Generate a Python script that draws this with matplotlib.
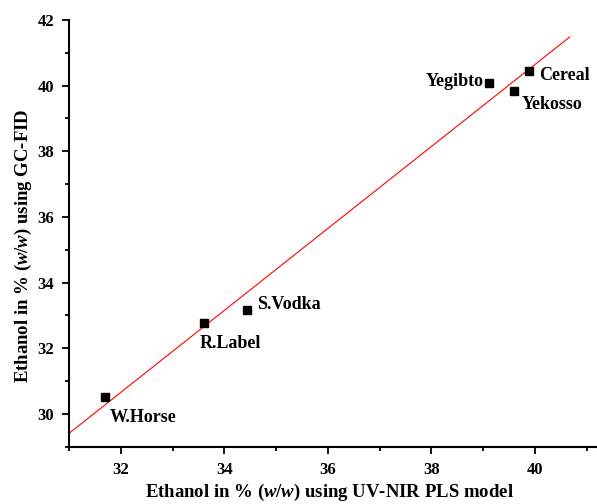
import numpy as np
import matplotlib
matplotlib.use("Agg")
import matplotlib.pyplot as plt
from matplotlib.ticker import MultipleLocator

# Data
names = ["W.Horse", "R.Label", "S.Vodka", "Yegibto", "Yekosso", "Cereal"]
pls = [31.70, 33.60, 34.44, 39.12, 39.60, 39.88]
gcfid = [30.52, 32.78, 33.15, 40.08, 39.85, 40.45]
fit_range = [31.0, 40.67]

# label offsets (pixels) and alignment
offsets = {"W.Horse": (4, -21, "left"), "R.Label": (-4, -21, "left"),
           "S.Vodka": (10, 6, "left"), "Yegibto": (-6, 2, "right"),
           "Yekosso": (7, -14, "left"), "Cereal": (10, -5, "left")}

plt.rcParams['font.family'] = ['Liberation Serif', 'DejaVu Serif']
plt.rcParams['font.weight'] = 'bold'
plt.rcParams['mathtext.fontset'] = 'custom'
plt.rcParams['mathtext.it'] = 'Liberation Serif:italic:bold'
plt.rcParams['mathtext.rm'] = 'Liberation Serif:bold'
plt.rcParams['mathtext.bf'] = 'Liberation Serif:bold'

fig = plt.figure(figsize=(5.97, 5.04), dpi=100)
ax = fig.add_axes([0.116, 0.1137, 0.884, 0.8466])

slope, intercept = np.polyfit(pls, gcfid, 1)
xf = np.array(fit_range)
ax.plot(xf, slope * xf + intercept, color='red', lw=0.8, zorder=2)
ax.plot(pls, gcfid, 's', color='black', ms=5.8, zorder=3, clip_on=False)

for n, x, y in zip(names, pls, gcfid):
    dx, dy, ha = offsets[n]
    ax.annotate(n, (x, y), xytext=(dx, dy), textcoords='offset pixels',
                ha=ha, va='center', fontsize=13, fontweight='bold')

ax.set_xlim(31, 41.2)
ax.set_ylim(29, 42)
ax.xaxis.set_major_locator(MultipleLocator(2))
ax.xaxis.set_minor_locator(MultipleLocator(1))
ax.yaxis.set_major_locator(MultipleLocator(2))
ax.yaxis.set_minor_locator(MultipleLocator(1))
ax.set_xticks([32, 34, 36, 38, 40])
ax.set_yticks([30, 32, 34, 36, 38, 40, 42])

for s in ['top', 'right']:
    ax.spines[s].set_visible(False)
for s in ['left', 'bottom']:
    ax.spines[s].set_linewidth(1.5)

ax.tick_params(which='major', direction='out', length=5, width=1.3, labelsize=12, pad=6)
ax.tick_params(which='minor', direction='out', length=3, width=1.3)
for lab in ax.get_xticklabels() + ax.get_yticklabels():
    lab.set_fontweight('bold')

ax.set_xlabel(r"Ethanol in % ($\mathit{w/w}$) using UV-NIR PLS model",
              fontsize=13.5, fontweight='bold')
ax.set_ylabel(r"Ethanol in % ($\mathit{w/w}$) using GC-FID",
              fontsize=13.5, fontweight='bold')
ax.xaxis.set_label_coords(0.494, -0.083)
ax.xaxis.label.set_va('top')
ax.yaxis.set_label_coords(-0.066, 0.47)

fig.savefig("out.png", dpi=100)
